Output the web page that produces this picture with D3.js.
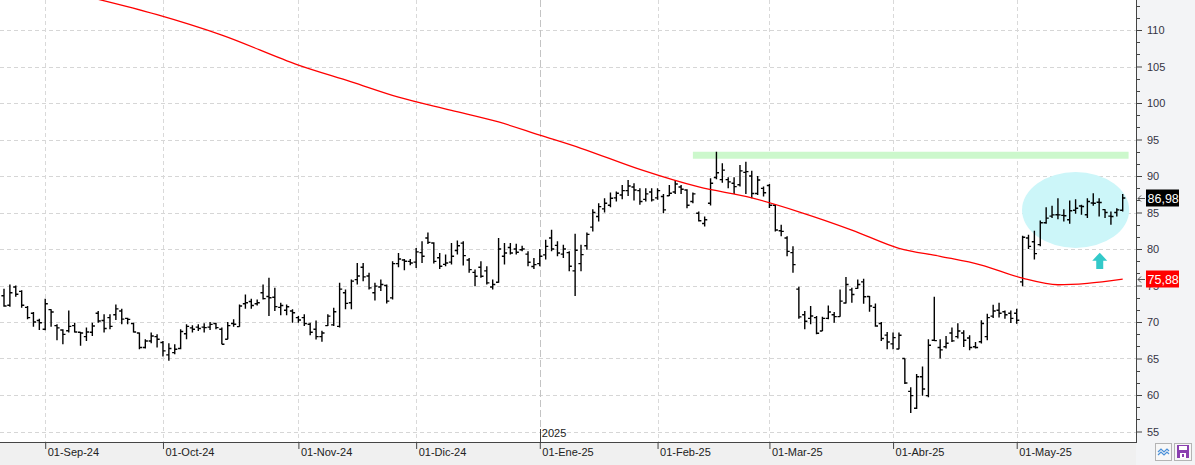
<!DOCTYPE html>
<html>
<head>
<meta charset="utf-8">
<script src="https://cdn.jsdelivr.net/npm/d3@7"></script>
<style>
  body { margin: 0; background: #fff; }
  svg { display: block; font-family: "Liberation Sans", Arial, sans-serif; }
</style>
</head>
<body>
<svg id="chart" width="1195" height="465"></svg>
<script>
// daily OHLC bars, one per trading day (index 0 = 22-Aug-24, 190 = last bar)
const opens = [
  73.6, 72.3, 74.8, 74.2, 72.0, 71.2, 70.2, 69.0, 71.7, 69.5,
  68.9, 68.8, 69.5, 68.6, 68.0, 68.6, 71.2, 70.2, 70.6, 71.0,
  71.5, 70.5, 69.8, 68.5, 66.5, 67.4, 68.0, 67.2, 65.5, 65.8,
  66.36, 68.4, 69.2, 69.3, 69.3, 69.3, 69.8, 69.0, 67.64, 69.8,
  69.36, 72.5, 72.8, 72.5, 74.0, 73.5, 73.4, 72.0, 71.6, 71.5,
  70.6, 70.6, 69.7, 69.0, 68.0, 69.5, 69.6, 69.4, 74.0, 72.64,
  75.8, 77.5, 76.3, 74.0, 74.8, 75.0, 73.3, 78.0, 78.5, 78.3,
  78.2, 79.5, 81.5, 80.82, 78.8, 77.9, 78.2, 79.8, 80.8, 78.5,
  76.8, 77.5, 77.0, 74.8, 75.45, 79.0, 80.2, 80.0, 79.9, 79.3,
  77.6, 78.0, 79.2, 81.5, 80.5, 79.3, 79.5, 77.0, 78.0, 80.45,
  83.0, 84.45, 85.5, 86.0, 87.0, 87.4, 88.0, 88.5, 88.0, 86.8,
  87.8, 87.0, 87.2, 87.3, 87.8, 88.5, 88.09, 86.5, 84.9, 83.5,
  86.27, 89.8, 89.5, 89.5, 89.0, 88.8, 90.5, 90.0, 87.6, 88.3,
  88.7, 86.0, 82.5, 81.5, 79.5, 74.5, 71.0, 70.5, 70.6, 68.77,
  70.5, 71.0, 70.73, 72.6, 74.4, 74.6, 75.5, 73.5, 72.0, 69.8,
  68.2, 67.0, 66.3, 65.0, 60.5, 58.18, 62.5, 59.91, 67.5, 66.5,
  66.6, 68.5, 68.0, 68.5, 67.8, 66.6, 67.3, 68.0, 70.8, 71.6,
  71.4, 71.2, 71.2, 75.5, 81.5, 81.0, 80.6, 83.6, 84.5, 84.7,
  84.6, 84.0, 85.3, 85.9, 84.7, 86.3, 86.4, 85.4, 84.5, 85.0,
  85.3
]
const highs = [
  74.55, 75.14, 75.0, 74.36, 72.18, 71.36, 70.45, 73.18, 71.73, 69.68,
  69.0, 71.59, 69.91, 68.64, 69.23, 69.91, 71.5, 71.05, 71.05, 72.41,
  71.82, 70.59, 69.91, 68.55, 67.64, 68.55, 68.32, 67.41, 67.09, 66.95,
  69.0, 69.68, 69.55, 69.68, 69.82, 70.0, 69.91, 69.23, 70.0, 70.36,
  72.41, 73.77, 73.18, 73.09, 75.14, 76.05, 74.68, 72.64, 72.41, 71.73,
  70.82, 71.05, 69.9, 70.2, 68.8, 71.05, 71.95, 75.36, 74.45, 75.82,
  78.09, 78.09, 76.73, 75.36, 75.82, 75.14, 78.32, 79.45, 78.64, 78.64,
  80.14, 81.05, 82.27, 80.91, 79.45, 79.23, 80.82, 81.18, 81.05, 78.77,
  77.18, 78.32, 77.64, 75.82, 81.5, 80.82, 80.82, 80.73, 80.45, 79.68,
  78.77, 80.0, 81.27, 82.64, 81.05, 80.59, 79.68, 82.09, 80.59, 82.27,
  85.45, 86.27, 86.95, 87.73, 87.86, 88.77, 89.45, 89.0, 88.32, 88.32,
  88.32, 88.32, 87.55, 88.77, 89.45, 88.77, 88.18, 87.73, 85.14, 84.45,
  89.68, 93.32, 91.73, 89.82, 89.82, 91.5, 91.95, 90.73, 90.0, 88.55,
  88.9, 86.1, 83.32, 81.73, 80.36, 74.82, 71.5, 72.18, 70.82, 70.73,
  72.27, 71.36, 74.45, 76.18, 74.68, 75.82, 75.91, 73.55, 72.55, 70.0,
  68.64, 68.55, 68.55, 65.0, 61.05, 62.86, 63.91, 67.64, 73.45, 67.64,
  68.09, 69.23, 69.82, 68.86, 68.18, 67.27, 70.23, 71.14, 72.36, 72.64,
  71.59, 71.59, 71.82, 81.82, 81.95, 82.5, 83.91, 85.73, 85.91, 86.95,
  85.45, 86.64, 86.82, 86.05, 86.95, 87.64, 86.95, 85.45, 85.14, 85.59,
  87.55
]
const lows = [
  72.09, 72.09, 73.45, 71.95, 70.36, 69.36, 68.9, 68.86, 69.36, 67.5,
  66.95, 68.55, 68.55, 66.73, 67.41, 68.09, 69.9, 68.55, 69.0, 70.27,
  69.68, 69.68, 68.55, 66.27, 66.36, 67.09, 66.5, 65.27, 64.68, 65.59,
  66.27, 67.64, 68.55, 68.77, 68.55, 68.91, 69.0, 66.95, 67.64, 69.36,
  69.36, 71.82, 71.82, 72.27, 73.09, 70.82, 71.5, 70.91, 70.91, 69.91,
  69.91, 69.45, 68.2, 67.6, 67.3, 69.45, 69.45, 69.23, 71.73, 71.73,
  75.14, 75.59, 74.45, 72.95, 74.23, 72.55, 73.09, 77.5, 77.09, 77.77,
  77.41, 78.09, 80.68, 78.0, 77.27, 77.64, 77.86, 79.23, 77.73, 76.73,
  74.91, 76.05, 75.14, 74.45, 75.36, 77.86, 79.23, 79.23, 79.68, 77.64,
  77.27, 77.64, 78.55, 79.68, 79.0, 78.77, 76.95, 73.55, 76.95, 79.91,
  82.41, 83.77, 85.0, 85.73, 86.5, 86.82, 87.27, 86.64, 86.05, 86.5,
  86.5, 86.73, 84.91, 87.27, 87.55, 87.55, 85.59, 86.27, 83.77, 83.09,
  85.95, 89.55, 89.09, 88.32, 87.55, 88.55, 87.55, 86.95, 87.4, 87.18,
  85.6, 82.4, 81.73, 79.0, 76.73, 70.45, 69.0, 69.68, 68.32, 68.77,
  70.36, 69.91, 70.73, 72.55, 72.64, 74.55, 72.5, 71.41, 69.36, 67.41,
  66.27, 66.27, 66.27, 61.5, 57.55, 58.09, 59.91, 59.68, 67.41, 65.0,
  66.36, 67.27, 67.73, 66.59, 66.14, 66.36, 67.05, 67.5, 70.55, 70.6,
  70.45, 69.86, 69.77, 74.91, 80.0, 78.55, 80.36, 83.45, 84.23, 84.09,
  83.77, 83.45, 84.82, 84.68, 84.23, 85.91, 84.45, 84.23, 83.32, 84.45,
  85.14
]
const closes = [
  72.2, 74.0, 73.8, 72.3, 70.6, 70.0, 69.9, 72.5, 71.36, 69.2,
  68.3, 69.4, 68.64, 68.5, 68.64, 69.45, 70.14, 69.1, 69.4, 71.8,
  70.4, 70.36, 68.64, 66.5, 67.4, 68.09, 67.64, 66.05, 66.36, 66.27,
  68.7, 69.4, 69.0, 69.1, 69.23, 69.68, 69.23, 66.95, 69.5, 69.7,
  72.2, 72.64, 72.27, 72.64, 73.2, 73.32, 72.1, 72.27, 72.09, 71.27,
  70.27, 69.8, 68.6, 68.0, 68.5, 70.8, 71.4, 74.5, 72.55, 75.6,
  76.3, 76.18, 74.68, 74.91, 75.14, 72.86, 78.0, 78.64, 78.32, 78.09,
  79.6, 79.0, 80.91, 78.3, 77.64, 78.09, 79.0, 80.45, 79.09, 77.18,
  76.27, 76.27, 75.36, 75.14, 80.0, 79.45, 79.45, 79.55, 80.0, 78.18,
  77.86, 79.0, 80.36, 80.0, 79.45, 80.0, 77.64, 79.82, 79.23, 82.0,
  85.0, 85.8, 86.27, 86.95, 87.64, 88.0, 88.64, 88.09, 86.5, 87.55,
  86.73, 88.0, 85.36, 87.64, 88.91, 88.18, 86.0, 87.55, 83.86, 84.0,
  89.0, 90.45, 90.8, 89.2, 88.55, 90.7, 90.6, 87.6, 89.45, 87.7,
  86.0, 82.6, 82.41, 79.68, 77.86, 70.7, 70.1, 70.82, 68.45, 70.5,
  71.36, 70.73, 72.86, 75.14, 73.77, 75.14, 73.45, 72.2, 69.45, 67.73,
  67.27, 67.86, 68.18, 61.64, 59.91, 62.5, 60.82, 66.82, 67.45, 66.18,
  67.09, 67.41, 68.77, 67.5, 66.5, 66.5, 69.8, 70.6, 71.5, 71.2,
  71.0, 70.5, 70.23, 81.6, 80.36, 79.36, 83.6, 84.23, 84.68, 84.68,
  84.55, 85.23, 85.59, 85.82, 86.5, 86.27, 86.36, 85.0, 84.45, 85.36,
  86.98
]

// first bar of each month and its axis label
const monthIdx = [7, 27, 50, 70, 91, 111, 130, 151, 172]
const monthLabels = ["01-Sep-24", "01-Oct-24", "01-Nov-24", "01-Dic-24", "01-Ene-25",
                     "01-Feb-25", "01-Mar-25", "01-Abr-25", "01-May-25"]
const yearIdx = 91
const yearLabel = "2025"

const yTicks = [55, 60, 65, 70, 75, 80, 85, 90, 95, 100, 105, 110]

const maIdx = [15, 26, 37, 50, 59, 67, 76, 84, 91, 98, 108, 118, 127, 135, 144, 152, 159, 166, 173, 179, 184, 190]
const maVals = [114.4, 112.1, 109.3, 105.2, 102.9, 100.8, 99.0, 97.4, 95.6, 93.8, 90.9, 88.5, 87.0, 85.1,
                82.6, 80.1, 79.0, 77.8, 76.0, 75.1, 75.3, 75.88]

// annotations: resistance level, highlight ellipse, up arrow
const resistance = { from: 117, to: 191, value: 92.83 }
const zone = { idx: 182, value: 85.34, halfBars: 9.1, halfPrice: 5.2 }
const upArrow = { idx: 186.1, top: 79.5, bottom: 77.26 }

function render() {
  const width = 1195
  const height = 465
  const plotRight = 1136
  const plotBottom = 442
  const font = '"Liberation Sans", Arial, sans-serif'
  const px = v => Math.round(v) + 0.5
  const comma = v => d3.format('.2f')(v).replace('.', ',')

  const svg = d3.select('#chart')

  const x = d3.scaleLinear().domain([0, 190]).range([4, 1122.7])
  const y = d3.scaleLinear().domain([55, 110]).range([431.5, 30])

  // backgrounds
  svg.append('rect').attr('width', width).attr('height', height).attr('fill', '#fff')
  svg.append('rect').attr('x', plotRight).attr('width', width - plotRight).attr('height', height).attr('fill', '#f3f4f6')
  svg.append('rect').attr('y', plotBottom).attr('width', plotRight).attr('height', height - plotBottom).attr('fill', '#f0f0f0')

  svg.append('clipPath').attr('id', 'plotClip')
    .append('rect').attr('width', plotRight).attr('height', plotBottom)
  const plot = svg.append('g').attr('clip-path', 'url(#plotClip)')

  // grid
  plot.append('g').selectAll('line')
    .data(yTicks)
    .enter()
    .append('line')
    .attr('x1', 0).attr('x2', plotRight)
    .attr('y1', d => px(y(d))).attr('y2', d => px(y(d)))
    .attr('stroke', '#d6d6d6')
    .attr('stroke-dasharray', '4,3')

  plot.append('g').selectAll('line')
    .data(monthIdx)
    .enter()
    .append('line')
    .attr('x1', d => px(x(d))).attr('x2', d => px(x(d)))
    .attr('y1', 0).attr('y2', plotBottom)
    .attr('stroke', d => d === yearIdx ? '#c4c4c4' : '#d9d9d9')
    .attr('stroke-dasharray', d => d === yearIdx ? '7,3' : '4,3')

  // annotations behind the bars
  plot.append('ellipse')
    .attr('cx', x(zone.idx))
    .attr('cy', y(zone.value))
    .attr('rx', x(zone.idx + zone.halfBars) - x(zone.idx))
    .attr('ry', y(zone.value - zone.halfPrice) - y(zone.value))
    .attr('fill', '#ccf6f9')

  plot.append('line')
    .attr('x1', x(resistance.from)).attr('x2', x(resistance.to))
    .attr('y1', y(resistance.value)).attr('y2', y(resistance.value))
    .attr('stroke', '#ccf8cc')
    .attr('stroke-width', 7)

  // OHLC bars
  plot.append('g').selectAll('path')
    .data(d3.range(closes.length))
    .enter()
    .append('path')
    .attr('d', i => {
      const cx = x(i)
      return `M${cx},${y(highs[i])}V${y(lows[i])}` +
        `M${cx - 2.6},${y(opens[i])}H${cx}` +
        `M${cx},${y(closes[i])}H${cx + 2.6}`
    })
    .attr('fill', 'none')
    .attr('stroke', '#000')
    .attr('stroke-width', 1.4)

  // moving average
  const ma = d3.line()
    .x(i => x(maIdx[i]))
    .y(i => y(maVals[i]))
    .curve(d3.curveMonotoneX)
  plot.append('path')
    .attr('d', ma(d3.range(maIdx.length)))
    .attr('fill', 'none')
    .attr('stroke', '#ff0000')
    .attr('stroke-width', 1.3)

  // up arrow
  const ax = x(upArrow.idx)
  const aTop = y(upArrow.top)
  const aBot = y(upArrow.bottom)
  plot.append('path')
    .attr('d', `M${ax},${aTop}L${ax + 7.5},${aTop + 8}L${ax + 3.5},${aTop + 8}L${ax + 3.5},${aBot}` +
      `L${ax - 3.5},${aBot}L${ax - 3.5},${aTop + 8}L${ax - 7.5},${aTop + 8}Z`)
    .attr('fill', '#33c9c9')

  // right price axis
  svg.append('line')
    .attr('x1', plotRight + 0.5).attr('x2', plotRight + 0.5)
    .attr('y1', 0).attr('y2', plotBottom)
    .attr('stroke', '#444')

  const minor = []
  yTicks.forEach(t => minor.push(t + 5 / 3, t + 10 / 3))
  svg.append('g').selectAll('line')
    .data(minor)
    .enter()
    .append('line')
    .attr('x1', plotRight).attr('x2', plotRight + 4)
    .attr('y1', d => px(y(d))).attr('y2', d => px(y(d)))
    .attr('stroke', '#444')

  const gy = svg.append('g')
    .attr('transform', `translate(${plotRight}, 0)`)
    .call(d3.axisRight(y).tickValues(yTicks).tickSize(6).tickPadding(5))
  gy.select('.domain').remove()
  gy.attr('font-family', font).attr('font-size', 11)
  gy.selectAll('line').attr('stroke', '#444')
  gy.selectAll('text').attr('fill', '#333344')

  // bottom date axis
  svg.append('line')
    .attr('x1', 0).attr('x2', plotRight + 1)
    .attr('y1', plotBottom + 0.5).attr('y2', plotBottom + 0.5)
    .attr('stroke', '#444')

  const gx = svg.append('g')
    .attr('transform', `translate(0, ${plotBottom})`)
    .call(d3.axisBottom(x)
      .tickValues(monthIdx)
      .tickFormat((d, i) => monthLabels[i])
      .tickSize(7))
  gx.select('.domain').remove()
  gx.attr('font-family', font).attr('font-size', 11)
  gx.selectAll('line').attr('stroke', '#444')
  gx.selectAll('text')
    .attr('fill', '#222')
    .attr('text-anchor', 'start')
    .attr('x', 2)
    .attr('y', 6)
    .attr('dy', '0.71em')

  // year marker
  svg.append('line')
    .attr('x1', px(x(yearIdx))).attr('x2', px(x(yearIdx)))
    .attr('y1', plotBottom - 13).attr('y2', plotBottom)
    .attr('stroke', '#444')
  svg.append('text')
    .attr('x', x(yearIdx) + 2)
    .attr('y', plotBottom - 5)
    .attr('font-family', font)
    .attr('font-size', 11)
    .attr('fill', '#222')
    .text(yearLabel)

  // last price / last average labels
  const tags = [
    { value: closes[closes.length - 1], fill: '#000' },
    { value: maVals[maVals.length - 1], fill: '#ff0000' }
  ]
  const tag = svg.append('g').selectAll('g')
    .data(tags)
    .enter()
    .append('g')
    .attr('transform', d => `translate(0, ${Math.round(y(d.value))})`)
  tag.append('path')
    .attr('d', `M${plotRight + 9},0.5H${plotRight + 2}M${plotRight + 5},-2.5L${plotRight + 2},0.5L${plotRight + 5},3.5`)
    .attr('fill', 'none')
    .attr('stroke', '#555')
  tag.append('rect')
    .attr('x', plotRight + 10)
    .attr('y', -8.5)
    .attr('width', 33)
    .attr('height', 17)
    .attr('fill', d => d.fill)
  tag.append('text')
    .attr('x', plotRight + 11.5)
    .attr('y', 0)
    .attr('dy', '0.36em')
    .attr('font-family', font)
    .attr('font-size', 12.5)
    .attr('fill', '#fff')
    .text(d => comma(d.value))

  // little toolbar buttons in the corner
  const tb = svg.append('g')
  tb.append('rect').attr('x', 1155.5).attr('y', 443.5).attr('width', 16).attr('height', 17)
    .attr('fill', '#f7f7f7').attr('stroke', '#b4b4b4')
  tb.append('path')
    .attr('d', 'M1158,452l3,-3l3,3l3,-3l2,2M1158,455l3,-3l3,3l3,-3l2,2')
    .attr('fill', 'none').attr('stroke', '#4a90d9').attr('stroke-width', 1.2)
  tb.append('rect').attr('x', 1174.5).attr('y', 443.5).attr('width', 17).attr('height', 17)
    .attr('fill', '#f7f7f7').attr('stroke', '#b4b4b4')
  tb.append('rect').attr('x', 1177).attr('y', 445).attr('width', 12).attr('height', 13).attr('fill', '#8a3fb0')
  tb.append('rect').attr('x', 1179).attr('y', 446).attr('width', 8).attr('height', 4).attr('fill', '#fff')
  tb.append('rect').attr('x', 1180).attr('y', 453).attr('width', 6).attr('height', 5).attr('fill', '#fff')
  tb.append('rect').attr('x', 1182).attr('y', 454).attr('width', 2).attr('height', 3).attr('fill', '#8a3fb0')
}

render()
</script>
</body>
</html>
